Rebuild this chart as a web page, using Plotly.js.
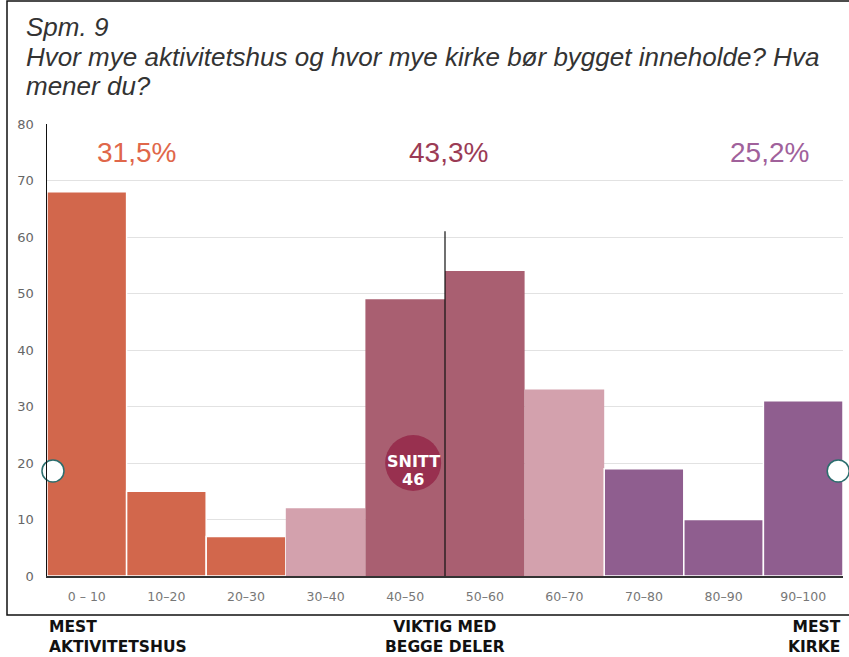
<!DOCTYPE html>
<html>
<head>
<meta charset="utf-8">
<script src="https://cdn.plot.ly/plotly-3.0.1.min.js"></script>
<style>
html,body{margin:0;padding:0;background:#fff;}
#chart{width:849px;height:657px;}
</style>
</head>
<body>
<div id="chart"></div>
<script>
// ---- data ----
var categories = ["0 – 10","10–20","20–30","30–40","40–50","50–60","60–70","70–80","80–90","90–100"];
var binStarts = [0,10,20,30,40,50,60,70,80,90];
var values = [68,15,7,12,49,54,33,19,10,31];
var groupLabels = ["31,5%","43,3%","25,2%"];
var groupCenters = [11.3,50.4,90.8];
var meanValue = 46;
var meanLabelLines = ["SNITT","46"];
var handleLevel = 18.6;
var splitLineTop = 61;
var bottomLabels = ["MEST<br>AKTIVITETSHUS","VIKTIG MED<br>BEGGE DELER","MEST<br>KIRKE"];
var titleLines = ["Spm. 9","Hvor mye aktivitetshus og hvor mye kirke bør bygget inneholde? Hva","mener du?"];

// ---- styles ----
var ORANGE = "#D2674C", LPINK = "#D3A1AD", ROSE = "#A95F71", PURPLE = "#8F5E8F";
var barColors = [ORANGE,ORANGE,ORANGE,LPINK,ROSE,ROSE,LPINK,PURPLE,PURPLE,PURPLE];
var barLineW = [1.5,1.5,1.5,0,0,0,0,1.5,1.5,1.5];
var labelColors = ["#E0674A","#9B3B55","#A0619B"];
var T = 124, B = 576; // plot area pixel top/bottom
function py(p){ return (B - p) / (B - T); }

var centers = binStarts.map(function(s){return s+5;});

var bars = {
  type: "bar",
  x: centers,
  y: values,
  width: 10,
  marker: {color: barColors, line: {color: "#ffffff", width: barLineW}},
  hoverinfo: "skip",
  showlegend: false
};

var snitt = {
  type: "scatter", mode: "markers",
  x: [meanValue], y: [20],
  marker: {size: 56, color: "#98304F", line: {width: 0}},
  hoverinfo: "skip", showlegend: false, cliponaxis: false
};

var handles = {
  type: "scatter", mode: "markers",
  x: [0.75, 99.4], y: [handleLevel, handleLevel],
  marker: {size: 22, color: "#ffffff", line: {color: "#2B6E6E", width: 1.5}},
  hoverinfo: "skip", showlegend: false, cliponaxis: false
};

var annotations = [];
// title lines
var titleY = [27, 57, 86];
for (var t = 0; t < titleLines.length; t++) {
  annotations.push({
    x: (24-47)/796, y: py(titleY[t]), xref: "paper", yref: "paper",
    text: titleLines[t], showarrow: false, xanchor: "left", yanchor: "middle",
    font: {family: "Liberation Sans, Arial, sans-serif", size: 26, color: "#333333", style: "italic"}
  });
}
// snitt label
var snittY = [461, 479];
for (var s = 0; s < meanLabelLines.length; s++) {
  annotations.push({
    x: meanValue, y: py(snittY[s]), xref: "x", yref: "paper",
    text: "<b>" + meanLabelLines[s] + "</b>", showarrow: false, xanchor: "center", yanchor: "middle",
    font: {family: "DejaVu Sans, sans-serif", size: 16, color: "#ffffff"}
  });
}
for (var i = 0; i < groupLabels.length; i++) {
  annotations.push({
    x: groupCenters[i], y: 75, xref: "x", yref: "y",
    text: groupLabels[i], showarrow: false,
    font: {family: "Liberation Sans, Arial, sans-serif", size: 28, color: labelColors[i]},
    xanchor: "center", yanchor: "middle"
  });
}
var blPos = [[0, "left"], [50, "center"], [100, "right"]];
for (var j = 0; j < bottomLabels.length; j++) {
  annotations.push({
    x: blPos[j][0], y: py(616), xref: "x", yref: "paper",
    text: "<b>" + bottomLabels[j] + "</b>", showarrow: false,
    align: blPos[j][1], xanchor: blPos[j][1], yanchor: "top",
    font: {family: "DejaVu Sans, sans-serif", size: 15.5, color: "#111111"}
  });
}

var layout = {
  width: 849, height: 657,
  margin: {l: 47, r: 6, t: T, b: 657 - B},
  paper_bgcolor: "#ffffff", plot_bgcolor: "#ffffff",
  xaxis: {
    range: [0, 100],
    tickmode: "array", tickvals: centers, ticktext: categories,
    showgrid: false, zeroline: false,
    showline: true, linecolor: "#333333", linewidth: 1.5,
    ticks: "", ticklabelstandoff: 8,
    tickfont: {family: "DejaVu Sans, sans-serif", size: 12.5, color: "#777777"},
    fixedrange: true
  },
  yaxis: {
    range: [0, 80],
    tickmode: "array", tickvals: [0,10,20,30,40,50,60,70,80],
    showgrid: true, gridcolor: "#e2e2e2", gridwidth: 1,
    zeroline: false,
    showline: true, linecolor: "#111111", linewidth: 1.5,
    ticks: "", ticklabelstandoff: 9,
    tickfont: {family: "DejaVu Sans, sans-serif", size: 13, color: "#666666"},
    fixedrange: true
  },
  bargap: 0,
  shapes: [
    {type: "line", xref: "x", yref: "y", x0: 50, x1: 50, y0: 0, y1: splitLineTop,
     line: {color: "#111111", width: 1.2}, layer: "above"},
    {type: "rect", xref: "paper", yref: "paper",
     x0: (7-47)/796, x1: (860-47)/796, y0: py(615), y1: py(1),
     line: {color: "#111111", width: 1.5}, fillcolor: "rgba(0,0,0,0)", layer: "below"}
  ],
  annotations: annotations
};

Plotly.newPlot("chart", [bars, handles, snitt], layout, {displayModeBar: false, staticPlot: true});
</script>
</body>
</html>
